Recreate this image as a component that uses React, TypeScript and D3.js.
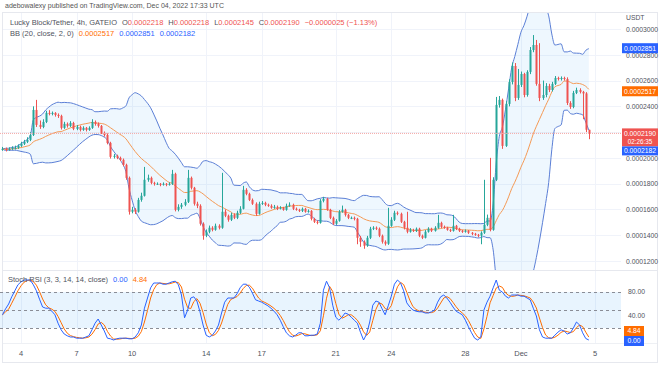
import React from "react";
import * as d3 from "d3";

// 4h candles, first one opens 2022-11-03 00:00 UTC. Prices in units of 1e-7 USDT.
const firstOpen = 2062;
const closes = [
  2070, 2062, 2070, 2078, 2078, 2093, 2109, 2124, 2140, 2178,
  2372, 2256, 2240, 2279, 2349, 2341, 2349, 2333, 2326, 2233,
  2264, 2248, 2271, 2225, 2240, 2217, 2233, 2217, 2233, 2279,
  2264, 2248, 2194, 2178, 2116, 2008, 2016, 2000, 1985, 1946,
  1845, 1582, 1597, 1582, 1674, 1706, 1830, 1845, 1806, 1799,
  1799, 1791, 1799, 1791, 1799, 1876, 1597, 1620, 1636, 1659,
  1845, 1768, 1644, 1628, 1489, 1396, 1427, 1458, 1442, 1473,
  1458, 1582, 1551, 1520, 1558, 1535, 1574, 1605, 1752, 1721,
  1674, 1644, 1566, 1644, 1651, 1636, 1628, 1613, 1620, 1605,
  1613, 1597, 1628, 1636, 1605, 1597, 1589, 1605, 1582, 1589,
  1527, 1504, 1496, 1667, 1682, 1597, 1535, 1489, 1512, 1582,
  1597, 1558, 1535, 1535, 1527, 1380, 1349, 1318, 1380, 1450,
  1458, 1450, 1396, 1349, 1334, 1473, 1520, 1574, 1566, 1504,
  1458, 1427, 1442, 1434, 1450, 1396, 1380, 1427, 1450, 1434,
  1458, 1496, 1465, 1458, 1442, 1434, 1473, 1450, 1434, 1427,
  1434, 1419, 1411, 1403, 1396, 1419, 1481, 1535, 1442, 1830,
  2411, 2450, 2093, 2419, 2589, 2713, 2465, 2566, 2651, 2488,
  2667, 2837, 2876, 2574, 2465, 2488, 2558, 2527, 2574, 2620,
  2612, 2620, 2612, 2426, 2395, 2504, 2527, 2512, 2500, 2218,
  2190,
];
const highs = [
  2085, 2080, 2082, 2090, 2095, 2105, 2125, 2140, 2160, 2200,
  2400, 2450, 2290, 2300, 2365, 2370, 2360, 2355, 2345, 2335,
  2280, 2275, 2285, 2280, 2255, 2250, 2245, 2240, 2245, 2300,
  2290, 2275, 2255, 2205, 2190, 2125, 2030, 2025, 2010, 1995,
  1955, 1855, 1620, 1610, 1690, 1730, 1930, 1870, 1855, 1815,
  1810, 1805, 1810, 1805, 1810, 1907, 1885, 1640, 1650, 1680,
  1907, 1855, 1775, 1660, 1640, 1500, 1445, 1475, 1470, 1490,
  1485, 1884, 1600, 1560, 1575, 1570, 1590, 1625, 1783, 1765,
  1730, 1685, 1655, 1660, 1665, 1660, 1645, 1640, 1635, 1630,
  1625, 1620, 1645, 1655, 1645, 1615, 1605, 1615, 1612, 1600,
  1595, 1535, 1515, 1680, 1698, 1690, 1605, 1545, 1525, 1595,
  1630, 1605, 1565, 1545, 1545, 1535, 1395, 1360, 1395, 1465,
  1470, 1468, 1460, 1405, 1360, 1613, 1540, 1590, 1585, 1575,
  1512, 1582, 1455, 1450, 1460, 1458, 1405, 1440, 1462, 1458,
  1470, 1558, 1505, 1475, 1465, 1450, 1558, 1480, 1458, 1442,
  1445, 1440, 1425, 1418, 1410, 1430, 1830, 1560, 2000, 1850,
  2473, 2480, 2460, 2440, 2610, 2740, 2736, 2690, 2670, 2660,
  2680, 2860, 2953, 2915, 2890, 2600, 2580, 2575, 2590, 2635,
  2630, 2632, 2630, 2625, 2440, 2520, 2545, 2540, 2520, 2510,
  2218,
];
const lows = [
  2055, 2050, 2055, 2062, 2065, 2070, 2085, 2100, 2115, 2130,
  2170, 2240, 2225, 2230, 2270, 2330, 2330, 2320, 2310, 2220,
  2225, 2235, 2240, 2215, 2215, 2205, 2210, 2205, 2210, 2225,
  2250, 2235, 2185, 2165, 2105, 1995, 1995, 1990, 1975, 1935,
  1830, 1560, 1570, 1565, 1575, 1660, 1700, 1815, 1795, 1785,
  1790, 1780, 1785, 1780, 1785, 1790, 1585, 1585, 1605, 1625,
  1650, 1755, 1630, 1610, 1475, 1365, 1385, 1415, 1430, 1435,
  1445, 1450, 1540, 1505, 1510, 1525, 1525, 1565, 1600, 1710,
  1665, 1635, 1550, 1560, 1635, 1625, 1620, 1605, 1605, 1595,
  1600, 1590, 1590, 1620, 1595, 1590, 1580, 1580, 1575, 1575,
  1515, 1495, 1485, 1490, 1655, 1590, 1525, 1480, 1480, 1505,
  1575, 1545, 1525, 1525, 1515, 1330, 1310, 1295, 1310, 1370,
  1440, 1440, 1385, 1335, 1320, 1325, 1465, 1510, 1555, 1495,
  1445, 1415, 1420, 1425, 1425, 1385, 1370, 1375, 1420, 1425,
  1428, 1450, 1455, 1450, 1435, 1425, 1428, 1440, 1425, 1418,
  1420, 1410, 1400, 1395, 1385, 1330, 1410, 1470, 1430, 1435,
  1820, 2390, 2070, 2085, 2400, 2570, 2440, 2450, 2550, 2470,
  2475, 2650, 2820, 2560, 2440, 2450, 2470, 2510, 2515, 2565,
  2600, 2600, 2600, 2410, 2380, 2385, 2495, 2500, 2300, 2200,
  2145,
];
const stochK = [
  42, 52, 60, 72, 82, 92, 97, 100, 100, 100,
  92, 82, 68, 55, 53, 53, 48, 42, 28, 17,
  10, 7, 5, 5, 3, 3, 3, 5, 7, 17,
  28, 35, 25, 15, 3, 2, 0, 2, 3, 3,
  3, 2, 2, 5, 12, 25, 53, 70, 87, 95,
  95, 95, 93, 93, 95, 97, 98, 92, 75, 37,
  50, 70, 72, 65, 47, 25, 8, 5, 8, 15,
  25, 45, 63, 70, 70, 70, 77, 87, 93, 93,
  88, 78, 67, 65, 63, 60, 57, 53, 48, 42,
  33, 22, 12, 7, 5, 8, 12, 12, 7, 7,
  8, 8, 10, 28, 83, 98, 87, 58, 38, 33,
  38, 45, 43, 38, 33, 28, 13, 0, 10, 30,
  58, 65, 63, 52, 42, 57, 73, 93, 100, 95,
  82, 62, 55, 50, 48, 47, 47, 45, 45, 47,
  50, 63, 72, 75, 70, 63, 55, 48, 45, 42,
  33, 22, 12, 3, 0, 5, 50, 63, 73, 87,
  100, 83, 80, 73, 70, 75, 75, 75, 73, 73,
  70, 67, 53, 40, 17, 5, 3, 3, 3, 8,
  13, 17, 15, 10, 12, 20, 30, 25, 12, 2.52,
  0,
];

const headerText = "adebowalexy published on TradingView.com, Dec 04, 2022 17:33 UTC";
const symbolText = "Lucky Block/Tether, 4h, GATEIO";
const ohlcLegend = [
  { key: "O", value: "0.0002218" },
  { key: "H", value: "0.0002218" },
  { key: "L", value: "0.0002145" },
  { key: "C", value: "0.0002190" },
];
const changeText = "\u22120.0000025 (\u22121.13%)";
const bbLabel = "BB (20, close, 2, 0)";
const bbValues = { basis: 2517, upper: 2851, lower: 2182 };
const lastPrice = 2190;
const countdown = "02:26:35";
const stochLabel = "Stoch RSI (3, 3, 14, 14, close)";
const stochValues = { k: "0.00", d: "4.84" };

// 0.0002200 sits under the last-price label, so it is not printed
const priceTicks = [1200, 1400, 1600, 1800, 2000, 2200, 2400, 2600, 2800, 3000];
const hiddenPriceLabels = [2200];
const stochLevels = [80, 50, 20];
const stochTicks = [80, 40];
const dayTicks = [
  { date: Date.UTC(2022, 10, 4), label: "4" },
  { date: Date.UTC(2022, 10, 7), label: "7" },
  { date: Date.UTC(2022, 10, 10), label: "10" },
  { date: Date.UTC(2022, 10, 14), label: "14" },
  { date: Date.UTC(2022, 10, 17), label: "17" },
  { date: Date.UTC(2022, 10, 21), label: "21" },
  { date: Date.UTC(2022, 10, 24), label: "24" },
  { date: Date.UTC(2022, 10, 28), label: "28" },
  { date: Date.UTC(2022, 11, 1), label: "Dec" },
  { date: Date.UTC(2022, 11, 5), label: "5" },
];

const UP = "#26a69a";
const DOWN = "#ef5350";
const BLUE = "#2962ff";
const BAND = "#5b7fd6";
const ORANGE = "#ff6d00";
const TEXT = "#50535e";
const GRID = "#f0f3fa";
const FONT = "'Liberation Sans', Arial, sans-serif";

const fmt = (v: number) => (v * 1e-7).toFixed(7);

export default function App() {
  const W = 660;
  const H = 365;
  const plotRight = 621;
  const main = { top: 13, bottom: 270 };
  const stoch = { top: 271, bottom: 343 };

  const t0 = Date.UTC(2022, 10, 3);
  const step = 4 * 3600 * 1000;

  const x = d3
    .scaleUtc()
    .domain([new Date(Date.UTC(2022, 10, 4)), new Date(Date.UTC(2022, 11, 5))])
    .range([21, 595]);
  const y = d3.scaleLinear().domain([1200, 3000]).range([261, 29]);
  const ys = d3.scaleLinear().domain([0, 100]).range([340, 280]);

  const candles = closes.map((c, i) => ({
    t: new Date(t0 + i * step),
    o: i === 0 ? firstOpen : closes[i - 1],
    h: highs[i],
    l: lows[i],
    c,
  }));

  // Bollinger bands (20, 2)
  const bb = closes.map((_, i) => {
    const win = closes.slice(Math.max(0, i - 19), i + 1);
    const m = d3.mean(win) as number;
    const sd = Math.sqrt(d3.mean(win, (v) => (v - m) ** 2) as number);
    return { t: candles[i].t, basis: m, upper: m + 2 * sd, lower: m - 2 * sd };
  });

  const bandArea = d3
    .area<(typeof bb)[number]>()
    .x((d) => x(d.t))
    .y0((d) => y(d.lower))
    .y1((d) => y(d.upper))
    .curve(d3.curveMonotoneX);
  const bbLine = (key: "basis" | "upper" | "lower") =>
    d3
      .line<(typeof bb)[number]>()
      .x((d) => x(d.t))
      .y((d) => y(d[key]))
      .curve(d3.curveMonotoneX)(bb) || "";

  const stochD = stochK.map((_, i) => d3.mean(stochK.slice(Math.max(0, i - 2), i + 1)) as number);
  const stochLine = (vals: number[]) =>
    d3
      .line<number>()
      .x((_, i) => x(candles[i].t))
      .y((d) => ys(d))(vals) || "";

  const bodyW = 2;
  const lastY = y(lastPrice);
  const redTop = lastY - 5;
  const redH = 18;
  const lowerBoxY = redTop + redH + 4.5;
  const stochBlueY = ys(0) + 1;
  const stochOrangeY = stochBlueY - 10;

  const boxW = 36;
  const boxX = plotRight + 1;
  const fs = 6.8;

  return (
    <div style={{ position: "absolute", left: 0, top: 0 }}>
      <svg width={W} height={H} style={{ display: "block", background: "#fff" }} fontFamily={FONT}>
        <defs>
          <clipPath id="mainClip">
            <rect x={0} y={main.top} width={plotRight} height={main.bottom - main.top} />
          </clipPath>
          <clipPath id="stochClip">
            <rect x={0} y={stoch.top} width={plotRight} height={stoch.bottom - stoch.top} />
          </clipPath>
        </defs>

        <text x={5} y={8} fontSize={7} fill="#555">
          {headerText}
        </text>
        <rect x={2.5} y={12.5} width={655} height={350} fill="none" stroke="#e6e8ee" />

        {/* grid */}
        {priceTicks.map((p) => (
          <line key={p} x1={3} x2={plotRight} y1={Math.round(y(p)) + 0.5} y2={Math.round(y(p)) + 0.5} stroke={GRID} />
        ))}
        {dayTicks.map((d) => (
          <line
            key={d.label}
            x1={Math.round(x(new Date(d.date))) + 0.5}
            x2={Math.round(x(new Date(d.date))) + 0.5}
            y1={main.top}
            y2={stoch.bottom}
            stroke={GRID}
          />
        ))}
        <line x1={3} x2={657} y1={main.bottom + 0.5} y2={main.bottom + 0.5} stroke="#e6e8ee" />
        <line x1={3} x2={657} y1={stoch.bottom + 0.5} y2={stoch.bottom + 0.5} stroke="#eef0f4" />

        {/* main pane */}
        <g clipPath="url(#mainClip)">
          <path d={bandArea(bb) || ""} fill="rgba(33,150,243,0.08)" />
          <path d={bbLine("upper")} fill="none" stroke={BAND} strokeWidth={1} />
          <path d={bbLine("lower")} fill="none" stroke={BAND} strokeWidth={1} />
          <path d={bbLine("basis")} fill="none" stroke="#f59a55" strokeWidth={1} />
          {candles.map((d, i) => {
            const cx = Math.round(x(d.t));
            const col = d.c >= d.o ? UP : DOWN;
            const top = y(Math.max(d.o, d.c));
            const bot = y(Math.min(d.o, d.c));
            return (
              <g key={i}>
                <line x1={cx + 0.5} x2={cx + 0.5} y1={y(d.h)} y2={y(d.l)} stroke={col} strokeWidth={1} />
                <rect x={cx - bodyW / 2 + 0.5} y={top} width={bodyW} height={Math.max(1, bot - top)} fill={col} />
              </g>
            );
          })}
          <line x1={0} x2={plotRight} y1={lastY} y2={lastY} stroke="#f4a6a4" strokeDasharray="1 1" />
        </g>

        {/* legend */}
        <text x={10} y={25} fontSize={7.5} fill={TEXT}>
          <tspan>{symbolText}</tspan>
          {ohlcLegend.map((o) => (
            <tspan key={o.key}>
              <tspan dx={5} fill={TEXT}>{o.key}</tspan>
              <tspan fill={DOWN}>{o.value}</tspan>
            </tspan>
          ))}
          <tspan dx={5} fill={DOWN}>{changeText}</tspan>
        </text>
        <text x={10} y={36} fontSize={7.5} fill={TEXT}>
          <tspan>{bbLabel}</tspan>
          <tspan dx={5} fill={ORANGE}>{fmt(bbValues.basis)}</tspan>
          <tspan dx={5} fill={BLUE}>{fmt(bbValues.upper)}</tspan>
          <tspan dx={5} fill={BLUE}>{fmt(bbValues.lower)}</tspan>
        </text>

        {/* price axis */}
        <text x={626} y={20} fontSize={fs} fill={TEXT}>USDT</text>
        {priceTicks
          .filter((p) => !hiddenPriceLabels.includes(p))
          .map((p) => (
            <text key={p} x={626} y={y(p) + 2.8} fontSize={fs} fill={TEXT}>
              {fmt(p)}
            </text>
          ))}
        <rect x={boxX} y={y(bbValues.upper) - 5} width={boxW} height={10} fill={BLUE} />
        <text x={boxX + boxW / 2} y={y(bbValues.upper) + 2.4} fontSize={fs} fill="#fff" textAnchor="middle">
          {fmt(bbValues.upper)}
        </text>
        <rect x={boxX} y={y(bbValues.basis) - 5} width={boxW} height={10} fill={ORANGE} />
        <text x={boxX + boxW / 2} y={y(bbValues.basis) + 2.4} fontSize={fs} fill="#fff" textAnchor="middle">
          {fmt(bbValues.basis)}
        </text>
        <rect x={boxX} y={redTop} width={boxW} height={redH} fill={DOWN} />
        <text x={boxX + boxW / 2} y={lastY + 2.4} fontSize={fs} fill="#fff" textAnchor="middle">
          {fmt(lastPrice)}
        </text>
        <text x={boxX + boxW / 2} y={lastY + 10.5} fontSize={6.3} fill="#fff" textAnchor="middle">
          {countdown}
        </text>
        <rect x={boxX} y={lowerBoxY - 4.5} width={boxW} height={9} fill={BLUE} />
        <text x={boxX + boxW / 2} y={lowerBoxY + 2.3} fontSize={fs} fill="#fff" textAnchor="middle">
          {fmt(bbValues.lower)}
        </text>

        {/* stoch pane */}
        <rect x={0} y={ys(80)} width={plotRight} height={ys(20) - ys(80)} fill="rgba(33,150,243,0.1)" />
        {stochLevels.map((l) => (
          <line
            key={l}
            x1={0}
            x2={plotRight}
            y1={Math.round(ys(l)) + 0.5}
            y2={Math.round(ys(l)) + 0.5}
            stroke="#8a8d96"
            strokeDasharray="3 3"
          />
        ))}
        <g clipPath="url(#stochClip)">
          <path d={stochLine(stochD)} fill="none" stroke={ORANGE} strokeWidth={1} />
          <path d={stochLine(stochK)} fill="none" stroke={BLUE} strokeWidth={1} />
        </g>
        <text x={8} y={282} fontSize={7.5} fill={TEXT}>
          <tspan>{stochLabel}</tspan>
          <tspan dx={5} fill={BLUE}>{stochValues.k}</tspan>
          <tspan dx={5} fill={ORANGE}>{stochValues.d}</tspan>
        </text>
        {stochTicks.map((t) => (
          <text key={t} x={628} y={ys(t) + 2.4} fontSize={fs} fill={TEXT}>
            {t.toFixed(2)}
          </text>
        ))}
        <rect x={boxX + 2} y={stochOrangeY - 5} width={20} height={10} fill={ORANGE} />
        <text x={boxX + 12} y={stochOrangeY + 2.4} fontSize={fs} fill="#fff" textAnchor="middle">
          {stochValues.d}
        </text>
        <rect x={boxX + 2} y={stochBlueY - 5} width={20} height={10} fill={BLUE} />
        <text x={boxX + 12} y={stochBlueY + 2.4} fontSize={fs} fill="#fff" textAnchor="middle">
          {stochValues.k}
        </text>

        {/* time axis */}
        {dayTicks.map((d) => (
          <text
            key={d.label}
            x={x(new Date(d.date))}
            y={356}
            fontSize={7.5}
            fill={TEXT}
            textAnchor="middle"
          >
            {d.label}
          </text>
        ))}
      </svg>
    </div>
  );
}
